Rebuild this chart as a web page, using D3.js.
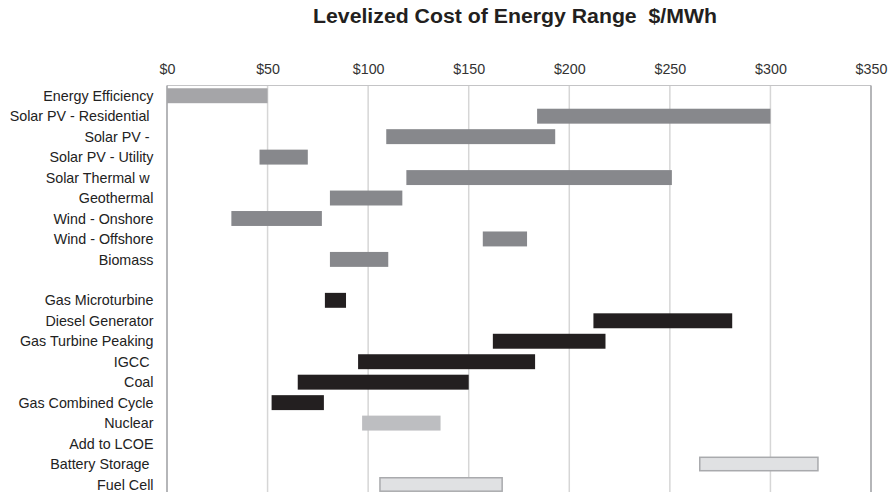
<!DOCTYPE html>
<html>
<head>
<meta charset="utf-8">
<script src="https://cdn.jsdelivr.net/npm/d3@7"></script>
<style>
  html, body { margin: 0; padding: 0; background: #fff; }
  svg text { font-family: "Liberation Sans", Arial, sans-serif; white-space: pre; }
</style>
</head>
<body>
<svg id="chart" width="891" height="492"></svg>
<script>
// Technologies, top to bottom (the empty entry is the gap between the two groups)
const categories = [
  "Energy Efficiency", "Solar PV - Residential ", "Solar PV - ", "Solar PV - Utility",
  "Solar Thermal w ", "Geothermal", "Wind - Onshore", "Wind - Offshore", "Biomass",
  "", "Gas Microturbine", "Diesel Generator", "Gas Turbine Peaking", "IGCC ", "Coal",
  "Gas Combined Cycle", "Nuclear", "Add to LCOE", "Battery Storage ", "Fuel Cell"
];
// Low and high end of each cost range, $/MWh (null = no bar)
const lowCost  = [0, 184, 109, 46, 119, 81, 32, 157, 81, null, 78.5, 212, 162, 95, 65, 52, 97, null, 264.5, 105.5];
const highCost = [50, 300, 193, 70, 251, 117, 77, 179, 110, null, 89, 281, 218, 183, 150, 78, 136, null, 324, 167];
// Kind of resource for each row
const kind = ["efficiency", "renewable", "renewable", "renewable", "renewable", "renewable", "renewable",
  "renewable", "renewable", null, "fossil", "fossil", "fossil", "fossil", "fossil", "fossil",
  "nuclear", null, "addon", "addon"];
const tickValues = [0, 50, 100, 150, 200, 250, 300, 350];
const title = "Levelized Cost of Energy Range  $/MWh";

const fillOf = { efficiency: "#a5a5a8", renewable: "#87888c", fossil: "#231f20", nuclear: "#bdbec1", addon: "#e0e1e3" };
const strokeOf = { addon: "#a9aaad" };

const svg = d3.select("#chart");
const plotLeft = 167, plotRight = 871, plotTop = 85.5, band = 20.46;

const x = d3.scaleLinear().domain([0, 350]).range([plotLeft, plotRight]);
const y = d3.scaleBand()
  .domain(categories.map((c, i) => i))
  .range([plotTop, plotTop + band * categories.length])
  .paddingInner(0.27).paddingOuter(0.135);

// Title
svg.append("text")
  .attr("x", 313).attr("y", 23)
  .attr("textLength", 404).attr("lengthAdjust", "spacingAndGlyphs")
  .attr("font-size", 19.5).attr("font-weight", "bold").attr("fill", "#231f20")
  .text(title);

// Vertical gridlines
svg.append("g").selectAll("line")
  .data(tickValues.filter(v => v > 0 && v < 350))
  .join("line")
  .attr("x1", d => x(d)).attr("x2", d => x(d))
  .attr("y1", plotTop).attr("y2", 492)
  .attr("stroke", "#d6d6d6").attr("stroke-width", 1.5);

// Top axis labels
const axis = d3.axisTop(x).tickValues(tickValues).tickSize(0).tickPadding(0).tickFormat(d => "$" + d);
const ax = svg.append("g").attr("transform", "translate(0,74)").call(axis);
ax.select(".domain").remove();
ax.selectAll("text")
  .attr("font-size", 14.3).attr("fill", "#333").attr("dy", 0)
  .style("font-family", "'Liberation Sans', Arial, sans-serif");

// Plot frame
svg.append("line").attr("x1", plotLeft).attr("x2", plotRight).attr("y1", plotTop).attr("y2", plotTop)
  .attr("stroke", "#c4c4c6").attr("stroke-width", 1.2);
svg.append("line").attr("x1", plotRight).attr("x2", plotRight).attr("y1", plotTop).attr("y2", 492)
  .attr("stroke", "#a3a4a7").attr("stroke-width", 1.6);
svg.append("line").attr("x1", plotLeft).attr("x2", plotLeft).attr("y1", plotTop).attr("y2", 492)
  .attr("stroke", "#a3a4a7").attr("stroke-width", 1.6);

// Range bars
const rows = categories.map((c, i) => ({ i, c, lo: lowCost[i], hi: highCost[i], k: kind[i] }))
  .filter(d => d.lo != null);
svg.append("g").selectAll("rect")
  .data(rows)
  .join("rect")
  .attr("x", d => x(d.lo) + (strokeOf[d.k] ? 0.75 : 0))
  .attr("y", d => y(d.i) + (strokeOf[d.k] ? 0.75 : 0))
  .attr("width", d => x(d.hi) - x(d.lo) - (strokeOf[d.k] ? 1.5 : 0))
  .attr("height", d => y.bandwidth() - (strokeOf[d.k] ? 1.5 : 0))
  .attr("fill", d => fillOf[d.k])
  .attr("stroke", d => strokeOf[d.k] || "none")
  .attr("stroke-width", 1.5);

// Category labels
svg.append("g").selectAll("text")
  .data(categories.map((c, i) => ({ c, i })))
  .join("text")
  .attr("x", 153.5)
  .attr("y", d => y(d.i) + y.bandwidth() / 2)
  .attr("dy", "0.36em")
  .attr("text-anchor", "end")
  .attr("font-size", 14.3).attr("fill", "#222")
  .text(d => d.c);
</script>
</body>
</html>
